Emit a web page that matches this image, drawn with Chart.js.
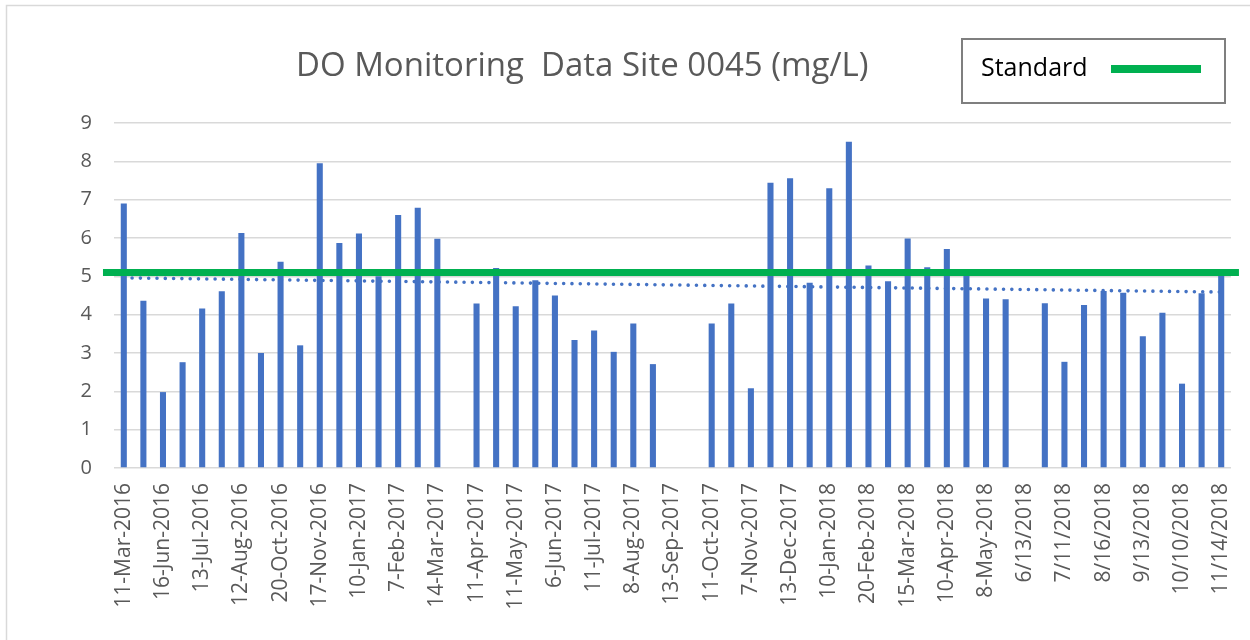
<!DOCTYPE html>
<html>
<head>
<meta charset="utf-8">
<script src="https://cdn.jsdelivr.net/npm/chart.js@4/dist/chart.umd.min.js"></script>
<style>
  body { margin: 0; background: #fff; }
  canvas { display: block; }
</style>
</head>
<body>
<canvas id="doChart" width="1250" height="640"></canvas>
<script>
const dateLabels = [
  "11-Mar-2016","16-Jun-2016","13-Jul-2016","12-Aug-2016","20-Oct-2016","17-Nov-2016",
  "10-Jan-2017","7-Feb-2017","14-Mar-2017","11-Apr-2017","11-May-2017","6-Jun-2017",
  "11-Jul-2017","8-Aug-2017","13-Sep-2017","11-Oct-2017","7-Nov-2017","13-Dec-2017",
  "10-Jan-2018","20-Feb-2018","15-Mar-2018","10-Apr-2018","8-May-2018","6/13/2018",
  "7/11/2018","8/16/2018","9/13/2018","10/10/2018","11/14/2018"
];

// one sample between each labelled date, only every other one gets a tick label
const doValues = [
  6.90, 4.36, 1.98, 2.76, 4.16, 4.61, 6.13, 3.00, 5.38, 3.20,
  7.95, 5.87, 6.12, 5.00, 6.60, 6.79, 5.98, null, 4.29, 5.22,
  4.22, 4.90, 4.50, 3.34, 3.59, 3.03, 3.77, 2.71, null, null,
  3.77, 4.29, 2.08, 7.44, 7.56, 4.83, 7.30, 8.51, 5.28, 4.87,
  5.99, 5.24, 5.71, 5.03, 4.42, 4.40, null, 4.30, 2.77, 4.25,
  4.62, 4.57, 3.44, 4.05, 2.20, 4.56, 5.03
];

const trendEnds = [4.96, 4.59];
const standardValue = 5.1;
const yTicks = [0, 1, 2, 3, 4, 5, 6, 7, 8, 9];

const categories = doValues.map((v, i) => i % 2 === 0 ? dateLabels[i / 2] : "");

Chart.defaults.font.family = "'Open Sans', sans-serif";
Chart.defaults.color = "#595959";

/* ---------- title, legend box, outer frame ---------- */
const decorPlugin = {
  id: "decor",
  afterDraw(chart) {
    const c = chart.ctx;
    c.save();
    c.strokeStyle = "#d9d9d9";
    c.lineWidth = 1.5;
    c.strokeRect(6.5, 5.5, 1260, 660);

    c.fillStyle = "#595959";
    c.font = "33px 'Open Sans', sans-serif";
    c.textAlign = "left";
    c.textBaseline = "alphabetic";
    c.fillText("DO Monitoring  Data Site 0045 (mg/L)", 296, 76);

    c.strokeStyle = "#7f7f7f";
    c.lineWidth = 2;
    c.strokeRect(962, 39, 263, 64);
    c.fillStyle = "#000";
    c.font = "25px 'Open Sans', sans-serif";
    c.fillText("Standard", 981, 76);
    c.strokeStyle = chart.data.datasets[2].borderColor;
    c.lineWidth = 8;
    c.beginPath();
    c.moveTo(1111, 69);
    c.lineTo(1201, 69);
    c.stroke();
    c.restore();
  }
};

const ctx = document.getElementById("doChart").getContext("2d");
new Chart(ctx, {
  type: "bar",
  data: {
    labels: categories,
    datasets: [
      {
        label: "DO",
        data: doValues,
        backgroundColor: "#4472C4",
        barPercentage: 0.31,
        categoryPercentage: 1,
        grouped: false,
        order: 3
      },
      {
        type: "line",
        label: "Trend",
        xAxisID: "xTrend",
        data: [
          { x: categories[0], y: trendEnds[0] },
          { x: categories[categories.length - 1], y: trendEnds[1] }
        ],
        borderColor: "#4472C4",
        borderWidth: 3.6,
        borderDash: [0, 8.3],
        borderCapStyle: "round",
        pointRadius: 0,
        fill: false,
        order: 2
      },
      {
        type: "line",
        label: "Standard",
        xAxisID: "x2",
        data: [{ x: 0, y: standardValue }, { x: 1, y: standardValue }],
        borderColor: "#00B050",
        borderWidth: 7,
        pointRadius: 0,
        fill: false,
        clip: false,
        order: 1
      }
    ]
  },
  options: {
    responsive: false,
    animation: false,
    layout: { padding: { left: 0, right: 19, top: 123, bottom: 0 } },
    plugins: {
      legend: { display: false },
      title: { display: false },
      tooltip: { enabled: false }
    },
    scales: {
      x: {
        offset: true,
        grid: { display: false, drawTicks: false },
        border: { display: false },
        ticks: {
          autoSkip: false,
          maxRotation: 90,
          minRotation: 90,
          padding: 15,
          font: { size: 21 },
          color: "#595959"
        },
        afterFit(scale) {
          scale.height = 172;
          scale.paddingLeft = 0;
          scale.paddingRight = 0;
        }
      },
      xTrend: {
        type: "category",
        display: false,
        offset: true
      },
      x2: {
        type: "linear",
        display: false,
        offset: false,
        min: 0.0097,
        max: 0.993
      },
      y: {
        min: yTicks[0],
        max: yTicks[yTicks.length - 1],
        afterBuildTicks(scale) { scale.ticks = yTicks.map(v => ({ value: v })); },
        grid: { color: "#d9d9d9", lineWidth: 1.5, drawTicks: false },
        border: { display: false },
        ticks: { padding: 22, font: { size: 20 }, color: "#595959" },
        afterFit(scale) { scale.width = 114; }
      }
    }
  },
  plugins: [decorPlugin]
});
</script>
</body>
</html>
